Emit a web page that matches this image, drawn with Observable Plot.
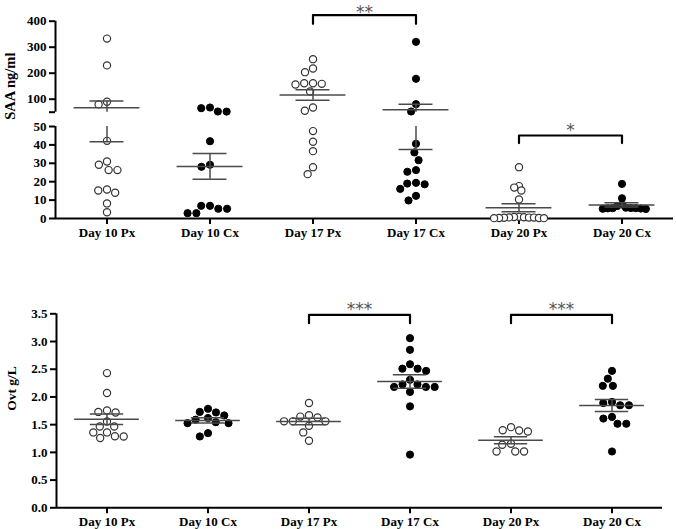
<!DOCTYPE html>
<html><head><meta charset="utf-8">
<script src="https://cdn.jsdelivr.net/npm/d3@7"></script>
<script src="https://cdn.jsdelivr.net/npm/@observablehq/plot@0.6"></script>
<style>
body{margin:0;background:#fff;}
#chart{width:676px;}
#chart svg{display:block;overflow:visible;}
</style></head><body><div id="chart"></div>
<script>
// ---------- data ----------
const categories = ["Day 10 Px", "Day 10 Cx", "Day 17 Px", "Day 17 Cx", "Day 20 Px", "Day 20 Cx"];

// SAA ng/ml
const saaDay10Px = [333, 230, 90, 80, 42.2, 31, 29.2, 26.3, 26.3, 15.8, 15.2, 14, 8.2, 3.4];
const saaDay10Cx = [68, 65.4, 52.7, 52.3, 42, 29.2, 28.1, 6.9, 6.9, 5.3, 5.3, 2.9, 2.9];
const saaDay17Px = [254, 218, 204, 161.5, 161.5, 159, 156.5, 129.6, 68, 55.4, 47.5, 41.7, 36.6, 27.9, 24.1];
const saaDay17Cx = [320.7, 178.5, 80.8, 52.7, 40.6, 35.9, 31.7, 26.3, 25.4, 19.4, 19, 18.6, 16.1, 12.3, 9.8];
const saaDay20Px = [27.9, 17.6, 16.8, 15.2, 10.3, 0.9, 0.8, 0.7, 0.6, 0.5, 0.5, 0.4, 0.3, 0.3, 0.2, 0.2];
const saaDay20Cx = [18.8, 11.0, 7.6, 6.8, 5.9, 5.7, 5.6, 5.6, 5.5, 5.4, 5.3, 5.2];

// Ovt g/L
const ovtDay10Px = [2.43, 2.07, 1.756, 1.73, 1.72, 1.558, 1.467, 1.467, 1.36, 1.36, 1.29, 1.287, 1.26];
const ovtDay10Cx = [1.787, 1.73, 1.72, 1.666, 1.62, 1.59, 1.545, 1.527, 1.527, 1.347, 1.287];
const ovtDay17Px = [1.89, 1.67, 1.645, 1.63, 1.56, 1.56, 1.56, 1.48, 1.36, 1.21];
const ovtDay17Cx = [3.06, 2.85, 2.59, 2.51, 2.51, 2.47, 2.31, 2.226, 2.226, 2.18, 2.18, 2.18, 2.09, 1.83, 0.96];
const ovtDay20Px = [1.455, 1.40, 1.395, 1.377, 1.155, 1.137, 1.016, 1.016, 1.016];
const ovtDay20Cx = [2.47, 2.33, 2.20, 2.20, 1.91, 1.89, 1.85, 1.85, 1.64, 1.61, 1.516, 1.516, 1.016];

// tick labels
const saaLowerTicks = [0, 10, 20, 30, 40, 50];
const saaUpperTicks = [100, 200, 300, 400];
const ovtTicks = [0, 0.5, 1, 1.5, 2, 2.5, 3, 3.5];

// significance brackets (heights in data units)
const saaBrackets = [
  {a: "Day 17 Px", b: "Day 17 Cx", label: "**", top: 423, end: 390, text: 448},
  {a: "Day 20 Px", b: "Day 20 Cx", label: "*", top: 45.1, end: 41, text: 49.8}
];
const ovtBrackets = [
  {a: "Day 17 Px", b: "Day 17 Cx", label: "***", top: 3.48, end: 3.33, text: 3.64},
  {a: "Day 20 Px", b: "Day 20 Cx", label: "***", top: 3.48, end: 3.33, text: 3.64}
];

// ---------- broken axis mapping (0-50 lower segment, 50-400 compressed upper segment) ----------
const BREAK = 50, GAP = 7.77, K = 0.1413;
const brk = v => v <= BREAK ? v : BREAK + GAP + (v - BREAK) * K;
const UPPER_START = BREAK + GAP;
const ident = v => v;

const FONT = "'Liberation Serif', 'Times New Roman', serif";

function panel(cfg) {
  const {groups, fy, yMax, tickVals, tickFmt, axisSegs, label, brackets, broken, compact,
         height, marginTop, marginBottom, marginRight, labelSize} = cfg;
  const pts = [];
  for (const c of categories) for (const v of groups[c]) pts.push({cat: c, v, cx: c.endsWith("Cx"), tight: compact.includes(c)});
  const stats = categories.map(c => {
    const v = groups[c];
    const m = d3.mean(v), s = d3.deviation(v) / Math.sqrt(v.length);
    return {cat: c, mean: m, lo: m - s, hi: m + s};
  });
  const segs = [];
  for (const s of stats) {
    if (broken && s.lo < BREAK && s.hi > BREAK) {
      segs.push({cat: s.cat, y1: fy(s.lo), y2: BREAK});
      segs.push({cat: s.cat, y1: UPPER_START, y2: fy(s.hi)});
    } else segs.push({cat: s.cat, y1: fy(s.lo), y2: fy(s.hi)});
  }
  const bpts = [], btxt = [];
  brackets.forEach((b, i) => {
    const d = 2 * (categories.indexOf(b.b) - categories.indexOf(b.a));
    bpts.push({id: i, fx: b.a, x: 0, y: fy(b.end)}, {id: i, fx: b.a, x: 0, y: fy(b.top)},
              {id: i, fx: b.a, x: d, y: fy(b.top)}, {id: i, fx: b.a, x: d, y: fy(b.end)});
    btxt.push({fx: b.a, x: d / 2, y: fy(b.text), t: b.label});
  });
  const lineCol = "#4a4a4a";
  const dotMarks = [];
  for (const cx of [false, true]) for (const tight of [false, true]) {
    const sub = pts.filter(d => d.cx === cx && d.tight === tight);
    if (!sub.length) continue;
    dotMarks.push(Plot.dot(sub, Plot.dodgeX({anchor: "middle", padding: tight ? -2.2 : 1.6},
      {fx: "cat", y: d => fy(d.v), r: 3.6, fill: cx ? "black" : "white",
       stroke: cx ? "black" : "#333", strokeWidth: cx ? 1 : 1.2})));
  }
  return Plot.plot({
    width: 676, height, marginLeft: 53, marginRight, marginTop, marginBottom,
    style: {fontFamily: FONT, fontSize: "13px", fontWeight: "bold", color: "black", background: "white"},
    fx: {domain: categories, padding: 0, label: null},
    x: {domain: [-1, 1], axis: null},
    y: {domain: [0, yMax]},
    marks: [
      Plot.ruleY([0], {stroke: "black", strokeWidth: 2}),
      Plot.ruleX(axisSegs, {fx: () => categories[0], x: -1, y1: "y1", y2: "y2", stroke: "black", strokeWidth: 2}),
      Plot.axisY(tickVals, {tickSize: 6, tickPadding: 3, tickFormat: tickFmt, label: null,
        strokeWidth: 2, fontSize: 13, fontWeight: "bold", fill: "black"}),
      Plot.axisFx({anchor: "bottom", tickSize: 6, tickPadding: 3, label: null,
        strokeWidth: 2, fontSize: 13, fontWeight: "bold", fill: "black"}),
      Plot.text([label], {fx: () => categories[0], text: d => d, frameAnchor: "left", dx: -45,
        rotate: -90, fontSize: labelSize, fontWeight: "bold", fill: "black"}),
      ...dotMarks,
      Plot.ruleY(stats, {fx: "cat", y: d => fy(d.mean), x1: -0.64, x2: 0.64, stroke: lineCol, strokeWidth: 1.5}),
      Plot.ruleY(stats, {fx: "cat", y: d => fy(d.lo), x1: -0.33, x2: 0.33, stroke: lineCol, strokeWidth: 1.5}),
      Plot.ruleY(stats, {fx: "cat", y: d => fy(d.hi), x1: -0.33, x2: 0.33, stroke: lineCol, strokeWidth: 1.5}),
      Plot.ruleX(segs, {fx: "cat", x: 0, y1: "y1", y2: "y2", stroke: lineCol, strokeWidth: 1.5}),
      Plot.line(bpts, {fx: "fx", x: "x", y: "y", z: "id", stroke: "black", strokeWidth: 2.2}),
      Plot.text(btxt, {fx: "fx", x: "x", y: "y", text: "t", dy: 4, fontFamily: "DejaVu Sans",
        fontWeight: "normal", fontSize: 17, fill: "#555"})
    ]
  });
}

// top panel (broken axis)
const saaGroups = {"Day 10 Px": saaDay10Px, "Day 10 Cx": saaDay10Cx, "Day 17 Px": saaDay17Px,
                   "Day 17 Cx": saaDay17Cx, "Day 20 Px": saaDay20Px, "Day 20 Cx": saaDay20Cx};
const saaTickVals = [...saaLowerTicks.map(brk), UPPER_START, ...saaUpperTicks.map(brk)];
const saaTickLabels = new Map([...saaLowerTicks.map(v => [brk(v), String(v)]), [UPPER_START, ""],
                               ...saaUpperTicks.map(v => [brk(v), String(v)])]);
const topChart = panel({
  groups: saaGroups, fy: brk, yMax: brk(saaUpperTicks[saaUpperTicks.length - 1]),
  tickVals: saaTickVals, tickFmt: t => saaTickLabels.get(t) ?? "",
  axisSegs: [{y1: 0, y2: BREAK}, {y1: UPPER_START, y2: brk(saaUpperTicks[saaUpperTicks.length - 1])}],
  label: "SAA ng/ml", brackets: saaBrackets, broken: true, compact: ["Day 20 Px", "Day 20 Cx"],
  height: 245, marginTop: 20.7, marginBottom: 27, marginRight: 2, labelSize: 14.5
});

// bottom panel
const ovtGroups = {"Day 10 Px": ovtDay10Px, "Day 10 Cx": ovtDay10Cx, "Day 17 Px": ovtDay17Px,
                   "Day 17 Cx": ovtDay17Cx, "Day 20 Px": ovtDay20Px, "Day 20 Cx": ovtDay20Cx};
const bottomChart = panel({
  groups: ovtGroups, fy: ident, yMax: ovtTicks[ovtTicks.length - 1],
  tickVals: ovtTicks, tickFmt: d3.format(".1f"),
  axisSegs: [{y1: 0, y2: ovtTicks[ovtTicks.length - 1]}],
  label: "Ovt g/L", brackets: ovtBrackets, broken: false, compact: [],
  height: 284, marginTop: 68.3, marginBottom: 21.7, marginRight: 12, labelSize: 13.5
});

const root = document.getElementById("chart");
root.appendChild(topChart);
root.appendChild(bottomChart);
</script>
</body></html>
